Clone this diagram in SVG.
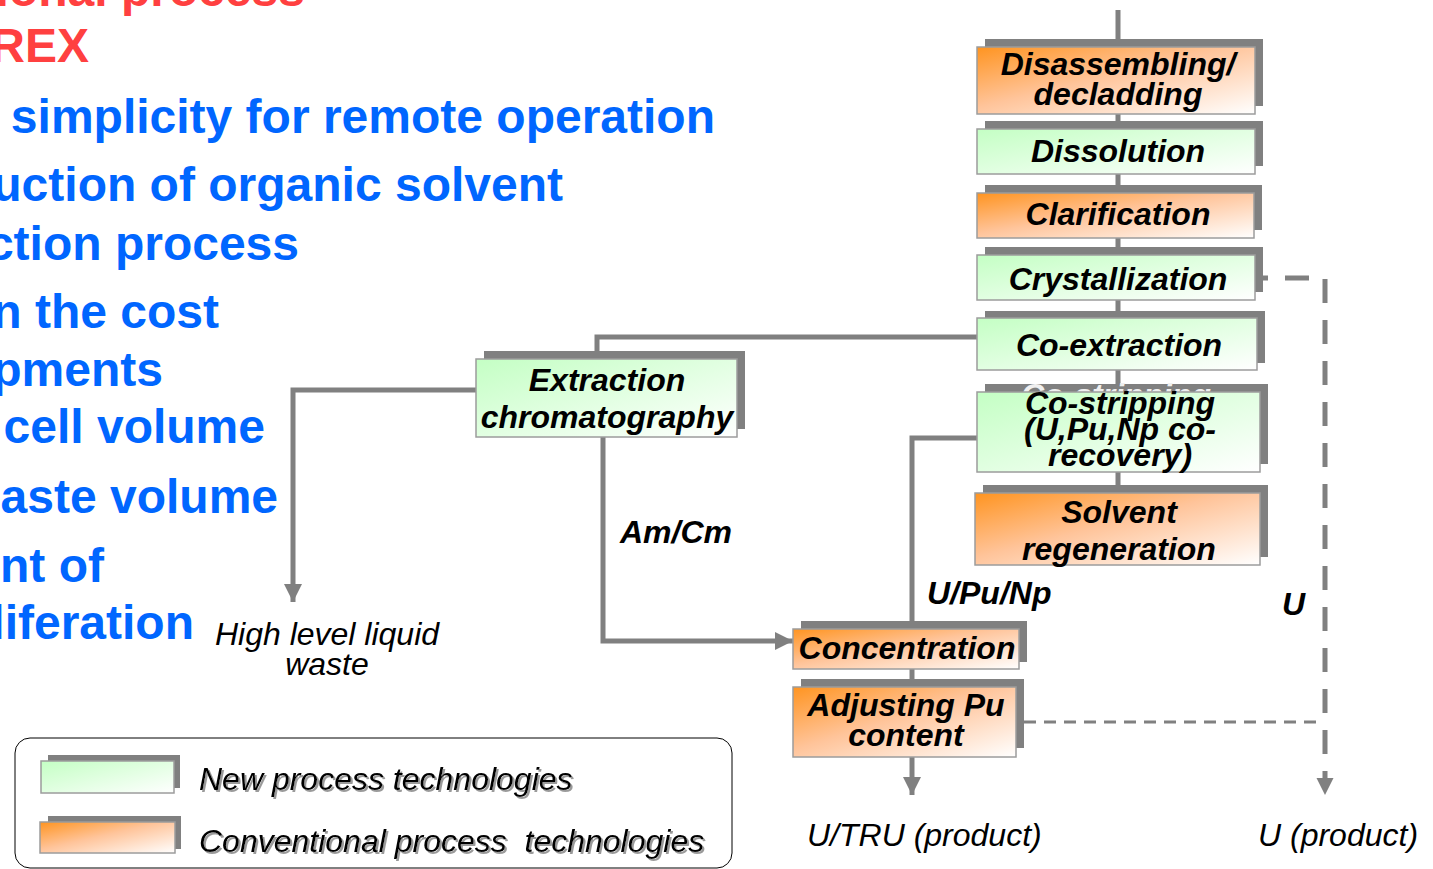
<svg xmlns="http://www.w3.org/2000/svg" width="1433" height="869" viewBox="0 0 1433 869">
  <defs>
    <linearGradient id="gOrange" x1="0" y1="0" x2="1" y2="1">
      <stop offset="0" stop-color="#FF9420"/>
      <stop offset="0.45" stop-color="#FFC49A"/>
      <stop offset="1" stop-color="#FFFFFF"/>
    </linearGradient>
    <linearGradient id="gGreen" x1="0" y1="0" x2="1" y2="1">
      <stop offset="0" stop-color="#C4FFC4"/>
      <stop offset="1" stop-color="#FFFFFF"/>
    </linearGradient>
    <marker id="arrow" viewBox="0 0 10 10" refX="10" refY="5" markerWidth="3.6" markerHeight="3.6" orient="auto" markerUnits="strokeWidth">
      <path d="M0,0 L10,5 L0,10 Z" fill="#808080"/>
    </marker>
    <filter id="txtShadow" x="-5%" y="-20%" width="110%" height="150%">
      <feDropShadow dx="2" dy="2" stdDeviation="0.6" flood-color="#9a9a9a" flood-opacity="1"/>
    </filter>
  </defs>
  <style>
    .shadow { fill: #808080; }
    .box { stroke: #9C9C9C; stroke-width: 1.5; }
    .orange { fill: url(#gOrange); }
    .green { fill: url(#gGreen); }
    .lbl { font-family: "Liberation Sans", Arial, sans-serif; font-size: 32px; font-weight: bold; font-style: italic; fill: #000; text-anchor: middle; }
    .tag { font-family: "Liberation Sans", Arial, sans-serif; font-size: 32px; font-weight: bold; font-style: italic; fill: #000; }
    .out { font-family: "Liberation Sans", Arial, sans-serif; font-size: 32px; font-style: italic; fill: #000; }
    .bullet { font-family: "Liberation Sans", Arial, sans-serif; font-size: 48px; font-weight: bold; fill: #0066FF; text-anchor: end; }
    .title { font-family: "Liberation Sans", Arial, sans-serif; font-size: 48px; font-weight: bold; fill: #FF4040; text-anchor: end; }
    .flow { fill: none; stroke: #808080; stroke-width: 5; }
    .dash { fill: none; stroke: #808080; stroke-width: 5; stroke-dasharray: 24 17; }
    .dashThin { fill: none; stroke: #808080; stroke-width: 3; stroke-dasharray: 12 8; }
  </style>

  <!-- heading and bullet text on the left -->
  <g id="intro-text">
    <text class="title" x="305" y="6">ional process</text>
    <text class="title" x="89" y="62">REX</text>
    <text class="bullet" x="715" y="133">simplicity for remote operation</text>
    <text class="bullet" x="563" y="201">uction of organic solvent</text>
    <text class="bullet" x="299" y="260">ction process</text>
    <text class="bullet" x="219" y="328">n the cost</text>
    <text class="bullet" x="163" y="386">pments</text>
    <text class="bullet" x="265" y="443">cell volume</text>
    <text class="bullet" x="278" y="513">aste volume</text>
    <text class="bullet" x="104" y="582">nt of</text>
    <text class="bullet" x="194" y="639">liferation</text>
  </g>

  <!-- connectors -->
  <g id="connectors">
    <path class="flow" d="M1118,10 V493"/>
    <path class="flow" d="M977,337 H597 V351"/>
    <path class="flow" d="M476,390 H293 V602" marker-end="url(#arrow)"/>
    <path class="flow" d="M603,437 V641 H793" marker-end="url(#arrow)"/>
    <path class="flow" d="M977,438 H912 V621"/>
    <path class="flow" d="M912,669 V679"/>
    <path class="flow" d="M912,757 V795" marker-end="url(#arrow)"/>
    <path class="dash" d="M1263,278 H1325 V778" stroke-dashoffset="19"/>
    <path class="dashThin" d="M1024,722 H1323"/>
    <path d="M1316.5,778 L1333.5,778 L1325,795 Z" fill="#808080"/>
  </g>

  <g id="disassembling">
    <rect class="shadow" x="985" y="39" width="278" height="67"/>
    <rect class="box orange" x="977" y="47" width="278" height="67"/>
    <text class="lbl" x="1118" y="75">Disassembling/</text>
    <text class="lbl" x="1118" y="105">decladding</text>
  </g>

  <g id="dissolution">
    <rect class="shadow" x="985" y="121" width="278" height="45"/>
    <rect class="box green" x="977" y="129" width="278" height="45"/>
    <text class="lbl" x="1118" y="162">Dissolution</text>
  </g>

  <g id="clarification">
    <rect class="shadow" x="985" y="185" width="277" height="45"/>
    <rect class="box orange" x="977" y="193" width="277" height="45"/>
    <text class="lbl" x="1118" y="225">Clarification</text>
  </g>

  <g id="crystallization">
    <rect class="shadow" x="985" y="247" width="278" height="45"/>
    <rect class="box green" x="977" y="255" width="278" height="45"/>
    <text class="lbl" x="1118" y="290">Crystallization</text>
  </g>

  <g id="co-extraction">
    <rect class="shadow" x="985" y="311" width="280" height="52"/>
    <rect class="box green" x="977" y="318" width="280" height="52"/>
    <text class="lbl" x="1119" y="356">Co-extraction</text>
  </g>

  <g id="co-stripping">
    <rect class="shadow" x="985" y="384" width="283" height="80"/>
    <!-- earlier single-line caption left behind the box -->
    <text class="lbl" x="1116" y="406" style="fill:#f0f0f0">Co-stripping</text>
    <rect class="box green" x="977" y="392" width="283" height="80"/>
    <text class="lbl" x="1120" y="414">Co-stripping</text>
    <text class="lbl" x="1120" y="440">(U,Pu,Np co-</text>
    <text class="lbl" x="1120" y="466">recovery)</text>
  </g>

  <g id="solvent-regeneration">
    <rect class="shadow" x="983" y="485" width="285" height="72"/>
    <rect class="box orange" x="975" y="493" width="285" height="72"/>
    <text class="lbl" x="1119" y="523">Solvent</text>
    <text class="lbl" x="1119" y="560">regeneration</text>
  </g>

  <g id="extraction-chromatography">
    <rect class="shadow" x="484" y="351" width="261" height="78"/>
    <rect class="box green" x="476" y="359" width="261" height="78"/>
    <text class="lbl" x="607" y="391">Extraction</text>
    <text class="lbl" x="607" y="428">chromatography</text>
  </g>

  <g id="concentration">
    <rect class="shadow" x="801" y="621" width="226" height="41"/>
    <rect class="box orange" x="793" y="629" width="226" height="40"/>
    <text class="lbl" x="907" y="659">Concentration</text>
  </g>

  <g id="adjusting-pu">
    <rect class="shadow" x="801" y="679" width="223" height="69"/>
    <rect class="box orange" x="793" y="687" width="223" height="70"/>
    <text class="lbl" x="906" y="716">Adjusting Pu</text>
    <text class="lbl" x="906" y="746">content</text>
  </g>

  <!-- stream labels -->
  <g id="stream-labels">
    <text class="tag" x="620" y="543">Am/Cm</text>
    <text class="tag" x="927" y="604">U/Pu/Np</text>
    <text class="tag" x="1282" y="615">U</text>
  </g>

  <!-- outputs -->
  <g id="hllw">
    <text class="out" x="327" y="645" text-anchor="middle">High level liquid</text>
    <text class="out" x="327" y="675" text-anchor="middle">waste</text>
  </g>
  <g id="utru-product">
    <text class="out" x="807" y="846">U/TRU (product)</text>
  </g>
  <g id="u-product">
    <text class="out" x="1258" y="846">U (product)</text>
  </g>

  <!-- legend -->
  <g id="legend">
    <rect x="15" y="738" width="717" height="130" rx="15" ry="15" fill="#fff" stroke="#000" stroke-width="1"/>
    <rect class="shadow" x="48" y="755" width="132" height="33"/>
    <rect class="box green" x="41" y="761" width="133" height="32"/>
    <rect class="shadow" x="48" y="816" width="133" height="33"/>
    <rect class="box orange" x="40" y="822" width="135" height="31"/>
    <text class="out" x="199" y="790" filter="url(#txtShadow)">New process technologies</text>
    <text class="out" x="199" y="852" filter="url(#txtShadow)" xml:space="preserve">Conventional process  technologies</text>
  </g>
</svg>
